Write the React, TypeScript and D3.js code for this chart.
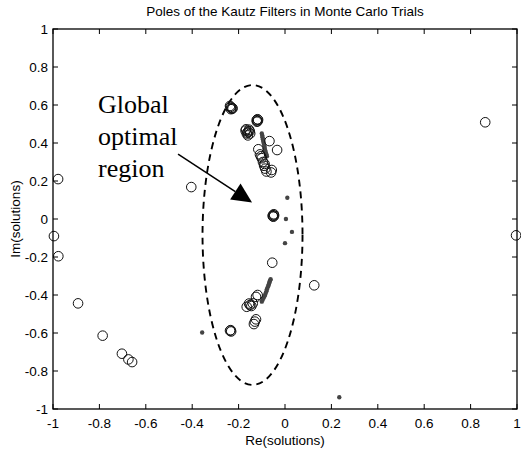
import React from "react";
import * as d3 from "d3";

const TITLE = "Poles of the Kautz Filters in Monte Carlo Trials";
const X_LABEL = "Re(solutions)";
const Y_LABEL = "Im(solutions)";
const X_TICKS = [-1, -0.8, -0.6, -0.4, -0.2, 0, 0.2, 0.4, 0.6, 0.8, 1];
const Y_TICKS = [-1, -0.8, -0.6, -0.4, -0.2, 0, 0.2, 0.4, 0.6, 0.8, 1];

// open circles: [re, im]
const circleRe = [
  -0.978, -0.996, -0.977, -0.892, -0.786, -0.703, -0.675, -0.659, -0.404, 0.863, 0.996, 0.126, -0.055,
  -0.237, -0.235, -0.232, -0.228, -0.226, -0.233,
  -0.119, -0.122, -0.118, -0.116, -0.121,
  -0.17, -0.162, -0.155, -0.15, -0.16, -0.158, -0.165, -0.152, -0.168,
  -0.067, -0.034, -0.115,
  -0.108, -0.1, -0.095, -0.09, -0.085, -0.08, -0.057, -0.06, -0.104, -0.088,
  -0.052, -0.05, -0.048, -0.053, -0.047,
  -0.118, -0.125,
  -0.151, -0.165, -0.139, -0.155, -0.145,
  -0.125, -0.134, -0.13,
  -0.237, -0.232, -0.234,
];
const circleIm = [
  0.21, -0.09, -0.196, -0.444, -0.614, -0.709, -0.739, -0.753, 0.168, 0.509, -0.086, -0.349, -0.23,
  0.595, 0.59, 0.585, 0.58, 0.583, 0.578,
  0.525, 0.52, 0.515, 0.522, 0.512,
  0.465, 0.455, 0.47, 0.45, 0.44, 0.46, 0.45, 0.462, 0.472,
  0.41, 0.363, 0.367,
  0.34, 0.32, 0.3, 0.28, 0.265, 0.25, 0.258, 0.245, 0.33, 0.29,
  0.02, 0.012, 0.025, 0.015, 0.018,
  -0.4, -0.41,
  -0.453, -0.462, -0.444, -0.445, -0.458,
  -0.528, -0.553, -0.54,
  -0.588, -0.592, -0.585,
];

// filled dots: [re, im]
const dotRe = [
  -0.1, -0.098, -0.097, -0.095, -0.094, -0.092, -0.09, -0.088, -0.087, -0.085, -0.083, -0.08, -0.078,
  0.01, 0.004, 0.03, 0.0,
  -0.062, -0.064, -0.066, -0.068, -0.07, -0.072, -0.075, -0.078, -0.08, -0.083, -0.086, -0.089, -0.092, -0.096, -0.1,
  -0.357, 0.234,
];
const dotIm = [
  0.45, 0.44, 0.43, 0.42, 0.41, 0.4, 0.39, 0.38, 0.37, 0.36, 0.35, 0.34, 0.33,
  0.112, 0.0, -0.068, -0.127,
  -0.317, -0.323, -0.33, -0.337, -0.345, -0.352, -0.36, -0.37, -0.38, -0.39, -0.4, -0.408, -0.415, -0.425, -0.435,
  -0.597, -0.938,
];

// annotation (data coordinates)
const ELLIPSE_CENTER = [-0.14, -0.084];
const ELLIPSE_RADII = [0.2155, 0.789];
const ARROW_FROM = [-0.461, 0.342];
const ARROW_TO = [-0.142, 0.087];
const NOTE_LINES = ["Global", "optimal", "region"];
const NOTE_POS = [-0.806, 0.558];

const W = 521;
const H = 450;
const M = { left: 53, right: 517, top: 29, bottom: 409 };

const fmt = (v: number) => {
  const r = Math.round(v * 10) / 10;
  return r === 0 ? "0" : String(r);
};

export default function App() {
  const x = d3.scaleLinear().domain([-1, 1]).range([M.left, M.right]);
  const y = d3.scaleLinear().domain([-1, 1]).range([M.bottom, M.top]);
  const sans = "'Liberation Sans', Arial, sans-serif";
  const serif = "'Liberation Serif', 'Times New Roman', serif";

  const ecx = x(ELLIPSE_CENTER[0]);
  const ecy = y(ELLIPSE_CENTER[1]);
  const erx = x(ELLIPSE_CENTER[0] + ELLIPSE_RADII[0]) - ecx;
  const ery = ecy - y(ELLIPSE_CENTER[1] + ELLIPSE_RADII[1]);

  const ax0 = x(ARROW_FROM[0]);
  const ay0 = y(ARROW_FROM[1]);
  const ax1 = x(ARROW_TO[0]);
  const ay1 = y(ARROW_TO[1]);
  const ang = Math.atan2(ay1 - ay0, ax1 - ax0);
  const headLen = 20;
  const headHalf = 9.5;
  const bx = ax1 - headLen * Math.cos(ang);
  const by = ay1 - headLen * Math.sin(ang);
  const px = -Math.sin(ang);
  const py = Math.cos(ang);
  const head = `M${ax1},${ay1} L${bx + px * headHalf},${by + py * headHalf} L${bx - px * headHalf},${by - py * headHalf} Z`;

  const tickLen = 5;

  return (
    <svg
      width={W}
      height={H}
      style={{ position: "absolute", left: 0, top: 0, background: "#fff" }}
    >
      <rect x={0} y={0} width={W} height={H} fill="#fff" />
      <ellipse
        cx={ecx}
        cy={ecy}
        rx={erx}
        ry={ery}
        fill="none"
        stroke="#000"
        strokeWidth={1.9}
        strokeDasharray="7,5"
      />
      {dotRe.map((re, i) => (
        <circle key={"d" + i} cx={x(re)} cy={y(dotIm[i])} r={2.2} fill="#444" />
      ))}
      {circleRe.map((re, i) => (
        <circle
          key={"c" + i}
          cx={x(re)}
          cy={y(circleIm[i])}
          r={4.8}
          fill="none"
          stroke="#111"
          strokeWidth={1}
        />
      ))}
      <line x1={ax0} y1={ay0} x2={bx} y2={by} stroke="#000" strokeWidth={1.5} />
      <path d={head} fill="#000" />
      {NOTE_LINES.map((t, i) => (
        <text
          key={t}
          x={x(NOTE_POS[0])}
          y={y(NOTE_POS[1]) + i * 32}
          fontFamily={serif}
          fontSize={26}
          fill="#000"
        >
          {t}
        </text>
      ))}
      <rect
        x={M.left}
        y={M.top}
        width={M.right - M.left}
        height={M.bottom - M.top}
        fill="none"
        stroke="#000"
        strokeWidth={1.3}
      />
      {X_TICKS.map((t) => (
        <g key={"xt" + t}>
          <line x1={x(t)} x2={x(t)} y1={M.bottom} y2={M.bottom - tickLen} stroke="#000" strokeWidth={1} />
          <line x1={x(t)} x2={x(t)} y1={M.top} y2={M.top + tickLen} stroke="#000" strokeWidth={1} />
          <text x={x(t)} y={428} textAnchor="middle" fontFamily={sans} fontSize={13.5} fill="#000">
            {fmt(t)}
          </text>
        </g>
      ))}
      {Y_TICKS.map((t) => (
        <g key={"yt" + t}>
          <line x1={M.left} x2={M.left + tickLen} y1={y(t)} y2={y(t)} stroke="#000" strokeWidth={1} />
          <line x1={M.right} x2={M.right - tickLen} y1={y(t)} y2={y(t)} stroke="#000" strokeWidth={1} />
          <text x={48} y={y(t) + 5} textAnchor="end" fontFamily={sans} fontSize={13.5} fill="#000">
            {fmt(t)}
          </text>
        </g>
      ))}
      <text x={(M.left + M.right) / 2} y={16} textAnchor="middle" fontFamily={sans} fontSize={13.5} fill="#000">
        {TITLE}
      </text>
      <text x={(M.left + M.right) / 2} y={445} textAnchor="middle" fontFamily={sans} fontSize={13.5} fill="#000">
        {X_LABEL}
      </text>
      <text
        transform={`translate(20,${(M.top + M.bottom) / 2}) rotate(-90)`}
        textAnchor="middle"
        fontFamily={sans}
        fontSize={13.5}
        fill="#000"
      >
        {Y_LABEL}
      </text>
    </svg>
  );
}
